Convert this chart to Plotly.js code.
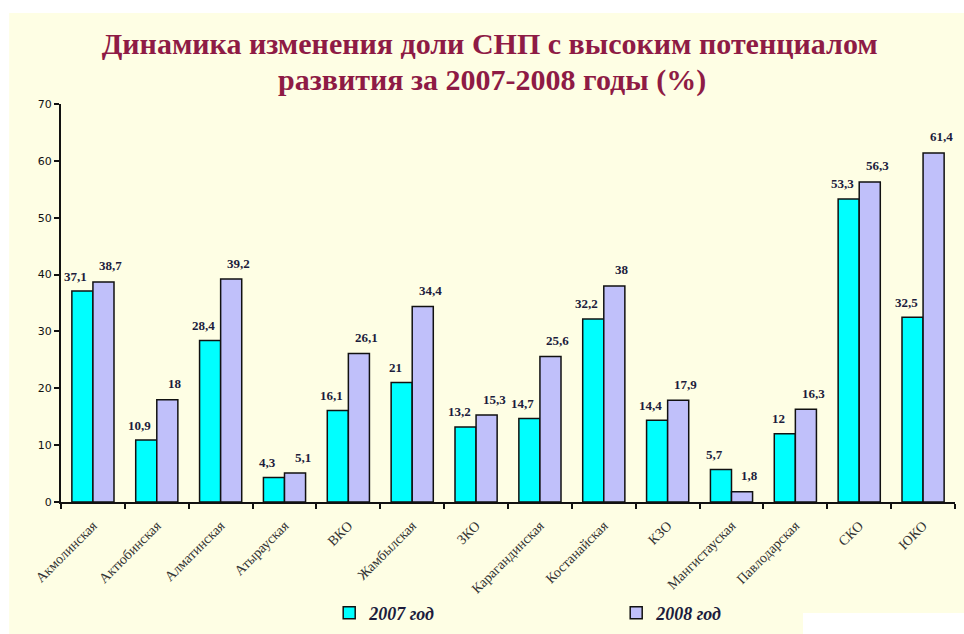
<!DOCTYPE html>
<html>
<head>
<meta charset="utf-8">
<script src="https://cdn.plot.ly/plotly-3.0.1.min.js"></script>
<style>
html,body{margin:0;padding:0;background:#ffffff;}
#chart{width:964px;height:634px;}
</style>
</head>
<body>
<div id="chart"></div>
<script>
// ---- data ----
var regions = ["Акмолинская","Актюбинская","Алматинская","Атырауская","ВКО","Жамбылская","ЗКО","Карагандинская","Костанайская","КЗО","Мангистауская","Павлодарская","СКО","ЮКО"];
var values2007 = [37.1, 10.9, 28.4, 4.3, 16.1, 21, 13.2, 14.7, 32.2, 14.4, 5.7, 12, 53.3, 32.5];
var values2008 = [38.7, 18, 39.2, 5.1, 26.1, 34.4, 15.3, 25.6, 38, 17.9, 1.8, 16.3, 56.3, 61.4];
var seriesNames = ["2007 год", "2008 год"];
var titleLines = ["Динамика изменения доли СНП с высоким потенциалом", "развития за 2007-2008 годы (%)"];

function fmt(v){ return String(v).replace('.', ','); }

var serif = 'Liberation Serif, Times New Roman, serif';
var titleColor = '#8E1B45';

var traces = [
  {type:'bar', name:seriesNames[0], x:regions, y:values2007,
   marker:{color:'#00FFFF', line:{color:'#111111', width:1.5}}, hoverinfo:'x+y'},
  {type:'bar', name:seriesNames[1], x:regions, y:values2008,
   marker:{color:'#C0C0FA', line:{color:'#111111', width:1.5}}, hoverinfo:'x+y'}
];

var labelFont = {family:serif, size:13, color:'#1c1c3c'};
var annotations = [];
regions.forEach(function(r,i){
  annotations.push({x:r, y:values2007[i], text:'<b>'+fmt(values2007[i])+'</b>', showarrow:false,
    xanchor:'center', yanchor:'middle', xshift:-17, yshift:15, font:labelFont});
  annotations.push({x:r, y:values2008[i], text:'<b>'+fmt(values2008[i])+'</b>', showarrow:false,
    xanchor:'center', yanchor:'middle', xshift:18, yshift:16, font:labelFont});
});
// second title line
annotations.push({xref:'paper', yref:'paper', x:0.482, y:1.060, xanchor:'center', yanchor:'middle',
  showarrow:false, text:'<b>'+titleLines[1]+'</b>', font:{family:serif, size:30, color:titleColor}});

var layout = {
  width:964, height:634,
  margin:{l:61, r:9, t:104, b:132, pad:0, autoexpand:false},
  paper_bgcolor:'#ffffff',
  plot_bgcolor:'rgba(0,0,0,0)',
  title:{text:'<b>'+titleLines[0]+'</b>',
    font:{family:serif, size:30, color:titleColor},
    xref:'container', x:0.508, xanchor:'center', yref:'container', y:0.931, yanchor:'middle'},
  barmode:'group', bargap:0.34, bargroupgap:0,
  showlegend:true,
  legend:{orientation:'h', x:0.30, xanchor:'left', y:-0.279, yanchor:'middle',
    entrywidth:242, bgcolor:'rgba(0,0,0,0)', itemclick:false,
    font:{family:serif, size:18, color:'#1c1c3c', style:'italic', weight:'bold'}},
  xaxis:{type:'category', automargin:false, showline:true, linecolor:'#111111', linewidth:2, mirror:false,
    ticks:'outside', tickson:'boundaries', ticklen:5, tickwidth:2, tickcolor:'#111111',
    tickangle:-45, ticklabelstandoff:8, tickfont:{family:serif, size:14, color:'#333333'},
    showgrid:false, zeroline:false},
  yaxis:{range:[0,70], dtick:10, automargin:false, showline:true, linecolor:'#111111', linewidth:2,
    ticks:'outside', ticklen:5, tickwidth:2, tickcolor:'#111111',
    tickfont:{family:'DejaVu Sans, sans-serif', size:11, color:'#111111'},
    showgrid:false, zeroline:false},
  shapes:[
    {type:'rect', xref:'paper', yref:'paper', x0:-0.058, x1:1.02, y0:-0.34, y1:1.2286,
      fillcolor:'#FEFEE4', line:{width:0}, layer:'below'},
    {type:'rect', xref:'paper', yref:'paper', x0:0.830, x1:1.02, y0:-0.34, y1:-0.2789,
      fillcolor:'#FFFFFF', line:{width:0}, layer:'below'}
  ],
  annotations:annotations
};

Plotly.newPlot('chart', traces, layout, {displayModeBar:false, staticPlot:true});
</script>
</body>
</html>
